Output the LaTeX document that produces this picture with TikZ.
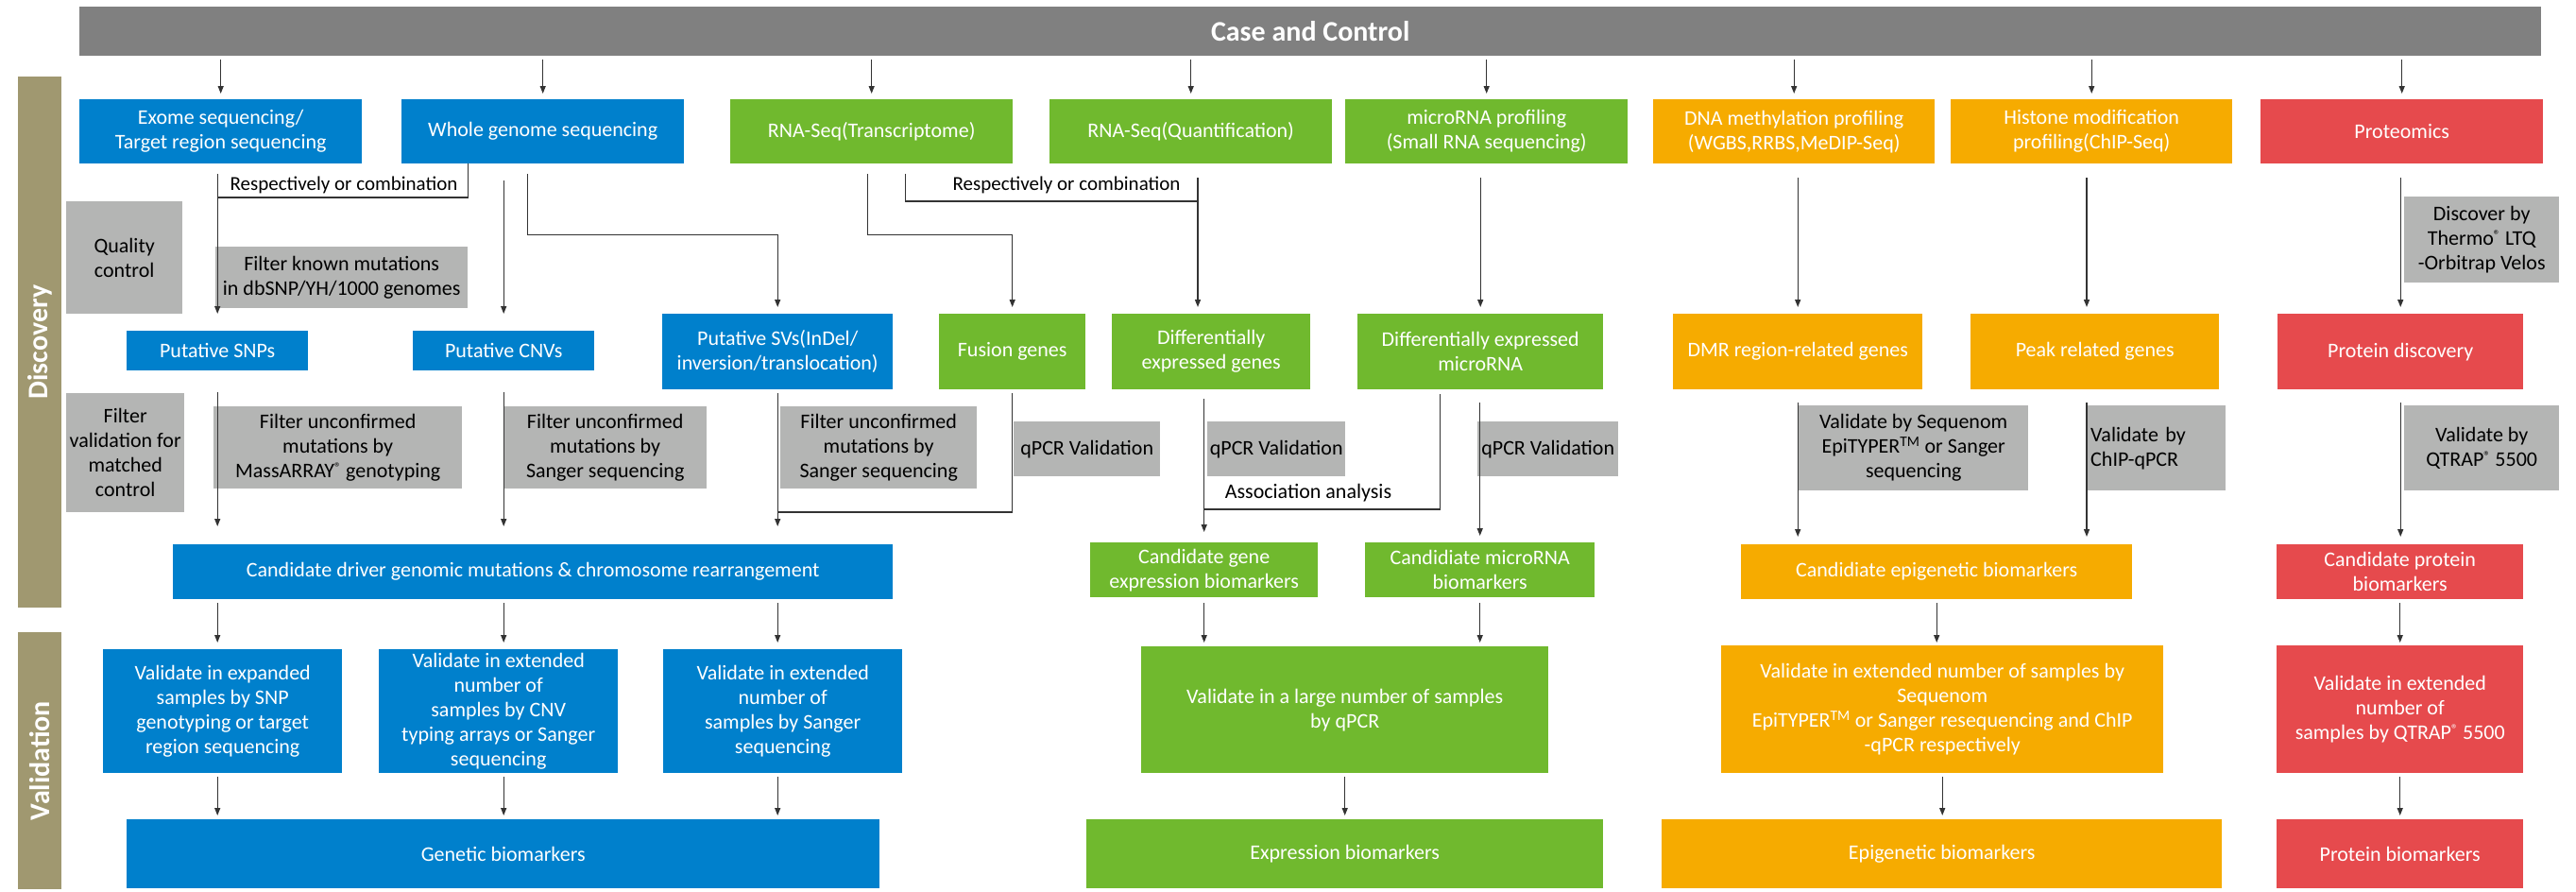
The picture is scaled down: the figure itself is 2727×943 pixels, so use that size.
\documentclass[tikz,border=0pt]{standalone}
\usepackage{fontspec}
\setmainfont{Carlito}
\usepackage{tikz}
\usetikzlibrary{arrows.meta,positioning}

\definecolor{hdrgray}{RGB}{128,128,128}
\definecolor{sidegray}{RGB}{160,152,112}
\definecolor{mblue}{RGB}{0,128,204}
\definecolor{mgreen}{RGB}{112,185,46}
\definecolor{morange}{RGB}{246,171,0}
\definecolor{mred}{RGB}{230,74,77}
\definecolor{notegray}{RGB}{180,181,180}
\newcommand{\regmark}{\raisebox{0.6ex}{\fontsize{14}{14}\selectfont ®}}

\begin{document}
\begin{tikzpicture}[x=1pt,y=-1pt,
  font=\fontsize{22}{26}\selectfont,
  sz/.style 2 args={minimum width=#1pt,minimum height=#2pt},
  box/.style={rectangle,anchor=north west,inner sep=1pt,align=center,text=white},
  bluebox/.style={box,fill=mblue},
  greenbox/.style={box,fill=mgreen},
  orangebox/.style={box,fill=morange},
  redbox/.style={box,fill=mred},
  notebox/.style={box,fill=notegray,text=black},
  sidebar/.style={rectangle,fill=sidegray,text=white,rotate=90,inner sep=0pt,font=\fontsize{30}{36}\selectfont\bfseries},
  lbl/.style={inner sep=0pt,text=black},
  line/.style={draw=black!80,line width=1.3pt},
  arr/.style={line,-{Triangle[length=8pt,width=6pt]}}]
\useasboundingbox (0,0) rectangle (2727,943);

% header and side bars
\node[box,fill=hdrgray,sz={2606}{52},font=\fontsize{30}{36}\selectfont\bfseries] (hdr) at (84,7) {Case and Control};
\node[sidebar,sz={562}{46}] (disc) at (42,362) {Discovery};
\node[sidebar,sz={272}{46}] (vald) at (42,805) {Validation};

% platforms
\node[bluebox,sz={299}{68}] (exome) at (84,105) {Exome sequencing/\\Target region sequencing};
\node[bluebox,sz={299}{68}] (wgs) at (425,105) {Whole genome sequencing};
\node[greenbox,sz={299}{68}] (rnat) at (773,105) {RNA-Seq(Transcriptome)};
\node[greenbox,sz={299}{68}] (rnaq) at (1111,105) {RNA-Seq(Quantification)};
\node[greenbox,sz={299}{68}] (mirna) at (1424,105) {microRNA profiling\\(Small RNA sequencing)};
\node[orangebox,sz={298}{68}] (dnam) at (1750,105) {DNA methylation profiling\\(WGBS,RRBS,MeDIP-Seq)};
\node[orangebox,sz={298}{68}] (hist) at (2065,105) {Histone modification\\profiling(ChIP-Seq)};
\node[redbox,sz={299}{68}] (prot) at (2393,105) {Proteomics};

% discovery results
\node[bluebox,sz={192}{42}] (snps) at (134,350) {Putative SNPs};
\node[bluebox,sz={192}{42}] (cnvs) at (437,350) {Putative CNVs};
\node[bluebox,sz={244}{80}] (svs) at (701,332) {Putative SVs(InDel/\\inversion/translocation)};
\node[greenbox,sz={155}{80}] (fusion) at (994,332) {Fusion genes};
\node[greenbox,sz={210}{80}] (deg) at (1177,332) {Differentially\\expressed genes};
\node[greenbox,sz={260}{80}] (dem) at (1437,332) {Differentially expressed\\microRNA};
\node[orangebox,sz={264}{80}] (dmr) at (1771,332) {DMR region-related genes};
\node[orangebox,sz={263}{80}] (peak) at (2086,332) {Peak related genes};
\node[redbox,sz={260}{80}] (pdisc) at (2411,332) {Protein discovery};

% filters
\node[notebox,sz={123}{119}] (qc) at (70,213) {Quality\\control};
\node[notebox,sz={267}{65}] (fknown) at (228,261) {Filter known mutations\\in dbSNP/YH/1000 genomes};
\node[notebox,sz={164}{91}] (discby) at (2545,208) {Discover by\\Thermo\regmark{} LTQ\\-Orbitrap Velos};
\node[notebox,sz={125}{126}] (fval) at (70,416) {Filter\\validation for\\matched\\control};
\node[notebox,sz={263}{87}] (fmass) at (226,430) {Filter unconfirmed\\mutations by\\MassARRAY\regmark{} genotyping};
\node[notebox,sz={215}{87}] (fsang1) at (533,430) {Filter unconfirmed\\mutations by\\Sanger sequencing};
\node[notebox,sz={208}{87}] (fsang2) at (826,430) {Filter unconfirmed\\mutations by\\Sanger sequencing};
\node[notebox,sz={155}{58}] (qpcr1) at (1073,446) {qPCR Validation};
\node[notebox,sz={146}{58},inner sep=0pt] (qpcr2) at (1278,446) {qPCR Validation};
\node[notebox,sz={149}{58},inner sep=0pt] (qpcr3) at (1564,446) {qPCR Validation};
\node[notebox,sz={243}{90}] (vseq) at (1904,429) {Validate by Sequenom\\EpiTYPER\textsuperscript{TM} or Sanger\\sequencing};
\node[notebox,sz={147}{90},text width=139pt,inner xsep=4pt,align=left] (vchip) at (2209,429) {Validate by\\ChIP-qPCR};
\node[notebox,sz={164}{90}] (vqtrap) at (2545,429) {Validate by\\QTRAP\regmark{} 5500};

% candidates
\node[bluebox,sz={762}{58}] (cdriver) at (183,576) {Candidate driver genomic mutations \& chromosome rearrangement};
\node[greenbox,sz={241}{58}] (cgene) at (1154,574) {Candidate gene\\expression biomarkers};
\node[greenbox,sz={243}{58}] (cmirna) at (1445,574) {Candidiate microRNA\\biomarkers};
\node[orangebox,sz={414}{58}] (cepi) at (1843,576) {Candidiate epigenetic biomarkers};
\node[redbox,sz={261}{58}] (cprot) at (2410,576) {Candidate protein\\biomarkers};

% validation
\node[bluebox,sz={253}{131}] (vsnp) at (109,687) {Validate in expanded\\samples by SNP\\genotyping or target\\region sequencing};
\node[bluebox,sz={253}{131},inner sep=0pt] (vcnv) at (401,687) {Validate in extended\\number of\\samples by CNV\\typing arrays or Sanger\\sequencing};
\node[bluebox,sz={253}{131}] (vsang) at (702,687) {Validate in extended\\number of\\samples by Sanger\\sequencing};
\node[greenbox,sz={431}{134}] (vlarge) at (1208,684) {Validate in a large number of samples\\by qPCR};
\node[orangebox,sz={468}{135}] (vepi) at (1822,683) {Validate in extended number of samples by\\Sequenom\\EpiTYPER\textsuperscript{TM} or Sanger resequencing and ChIP\\-qPCR respectively};
\node[redbox,sz={261}{135}] (vqt) at (2410,683) {Validate in extended\\number of\\samples by QTRAP\regmark{} 5500};

% biomarkers
\node[bluebox,sz={797}{73}] (genetic) at (134,867) {Genetic biomarkers};
\node[greenbox,sz={547}{73}] (expr) at (1150,867) {Expression biomarkers};
\node[orangebox,sz={593}{73}] (epi) at (1759,867) {Epigenetic biomarkers};
\node[redbox,sz={261}{73}] (protbm) at (2410,867) {Protein biomarkers};

% labels on the joins
\node[lbl,font=\fontsize{21}{25}\selectfont] (resp1) at (364,196) {Respectively or combination};
\node[lbl,font=\fontsize{21}{25}\selectfont] (resp2) at (1129,196) {Respectively or combination};
\node[lbl] (assoc) at (1385,522) {Association analysis};

\coordinate (j1) at (230,209);
\coordinate (qx) at (1268,0);
\coordinate (j4) at (1268,213);
\coordinate (j5) at (823,542);
\coordinate (j6) at (1274.5,539);

% case and control to platforms
\foreach \n in {exome,wgs,rnat,rnaq,mirna,dnam,hist,prot}
  \draw[arr,shorten <=4pt,shorten >=6pt] (hdr.south -| \n.north) -- (\n.north);

% platforms to discovery results
\draw[arr,shorten <=11pt,shorten >=18pt] (exome.south -| snps.north) -- (snps.north);
\draw[line] (wgs.south -| fknown.east) |- (j1);
\draw[arr,shorten <=18pt,shorten >=18pt] (wgs.south -| cnvs.north) -- (cnvs.north);
\draw[arr,shorten <=11pt,shorten >=7pt] ([xshift=-16pt]wgs.south) -- ++(0,75) -| (svs.north);
\draw[arr,shorten <=11pt,shorten >=7pt] ([xshift=-4pt]rnat.south) -- ++(0,75) -| (fusion.north);
\draw[line,shorten <=11pt] ([xshift=36pt]rnat.south) |- (j4);
\draw[arr,shorten <=15pt,shorten >=7pt] (qx |- rnaq.south) -- (qx |- deg.north);
\draw[arr,shorten <=15pt,shorten >=7pt] (mirna.south -| dem.north) -- (dem.north);
\draw[arr,shorten <=15pt,shorten >=7pt] (dnam.south -| dmr.north) -- (dmr.north);
\draw[arr,shorten <=15pt,shorten >=7pt] (hist.south -| vchip.west) -- (peak.north -| vchip.west);
\draw[arr,shorten <=15pt,shorten >=7pt] (prot.south -| pdisc.north) -- (pdisc.north);

% discovery results to candidates
\draw[arr,shorten <=23pt,shorten >=19pt] (snps.south) -- (snps.south |- cdriver.north);
\draw[arr,shorten <=23pt,shorten >=19pt] (cnvs.south) -- (cnvs.south |- cdriver.north);
\draw[arr,shorten <=4pt,shorten >=19pt] (svs.south) -- (svs.south |- cdriver.north);
\draw[line,shorten <=4pt] (fusion.south) |- (j5);
\draw[arr,shorten <=10pt,shorten >=11pt] (deg.south -| cgene.north) -- (cgene.north);
\draw[line,shorten <=5pt] ([xshift=-43pt]dem.south) |- (j6);
\draw[arr,shorten <=14pt,shorten >=7pt] (dem.south -| cmirna.north) -- (cmirna.north);
\draw[arr,shorten <=14pt,shorten >=8pt] (dmr.south) -- (dmr.south |- cepi.north);
\draw[arr,shorten <=14pt,shorten >=8pt] (peak.south -| vchip.west) -- (cepi.north -| vchip.west);
\draw[arr,shorten <=14pt,shorten >=8pt] (pdisc.south) -- (pdisc.south |- cprot.north);

% candidates to validation
\foreach \a/\b in {snps/vsnp,cnvs/vcnv,svs/vsang}
  \draw[arr,shorten <=4pt,shorten >=7pt] (cdriver.south -| \a.south) -- (\b.north -| \a.south);
\draw[arr,shorten <=6pt,shorten >=4pt] (cgene.south) -- (cgene.south |- vlarge.north);
\draw[arr,shorten <=6pt,shorten >=4pt] (cmirna.south) -- (cmirna.south |- vlarge.north);
\draw[arr,shorten <=4pt,shorten >=3pt] (cepi.south) -- (cepi.south |- vepi.north);
\draw[arr,shorten <=4pt,shorten >=3pt] (cprot.south) -- (cprot.south |- vqt.north);

% validation to biomarkers
\foreach \a/\b in {snps/vsnp,cnvs/vcnv,svs/vsang}
  \draw[arr,shorten <=4pt,shorten >=4pt] (\b.south -| \a.south) -- (genetic.north -| \a.south);
\draw[arr,shorten <=4pt,shorten >=4pt] (vlarge.south) -- (vlarge.south |- expr.north);
\draw[arr,shorten <=4pt,shorten >=4pt] (vepi.south) -- (vepi.south |- epi.north);
\draw[arr,shorten <=4pt,shorten >=4pt] (vqt.south) -- (vqt.south |- protbm.north);

\end{tikzpicture}
\end{document}
